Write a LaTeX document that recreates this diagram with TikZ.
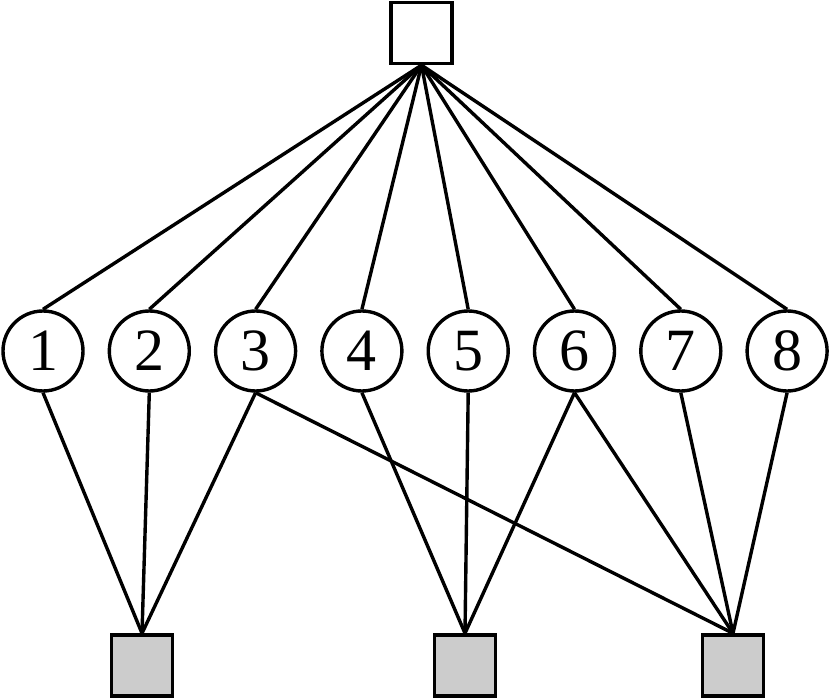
\documentclass[tikz,border=0pt]{standalone}
\usepackage{fontspec}
\setmainfont{Liberation Serif}
\begin{document}
\begin{tikzpicture}[x=1pt,y=-1pt,line width=3.4pt,
  cnode/.style={circle,draw,inner sep=0pt,minimum size=80pt,font=\fontsize{60}{60}\selectfont},
  topbox/.style={rectangle,draw,fill=white,minimum size=61pt},
  botbox/.style={rectangle,draw,fill=black!20,minimum size=61pt}]
\useasboundingbox (0,0) rectangle (832,700);
\node[topbox] (T) at (421.5,33) {};
\foreach \i/\x in {1/43,2/149.3,3/255.6,4/361.9,5/468.2,6/574.5,7/680.8,8/787.1}{
  \node[cnode] (c\i) at (\x,351) {\i};
}
\node[botbox] (b1) at (142,665.5) {};
\node[botbox] (b2) at (465,665.5) {};
\node[botbox] (b3) at (733,665.5) {};
\foreach \i in {1,...,8}{ \draw (T.south) -- (c\i.north); }
\foreach \i/\b in {1/b1,2/b1,3/b1,3/b3,4/b2,5/b2,6/b2,6/b3,7/b3,8/b3}{
  \draw (c\i.south) -- (\b.north);
}
\end{tikzpicture}
\end{document}
